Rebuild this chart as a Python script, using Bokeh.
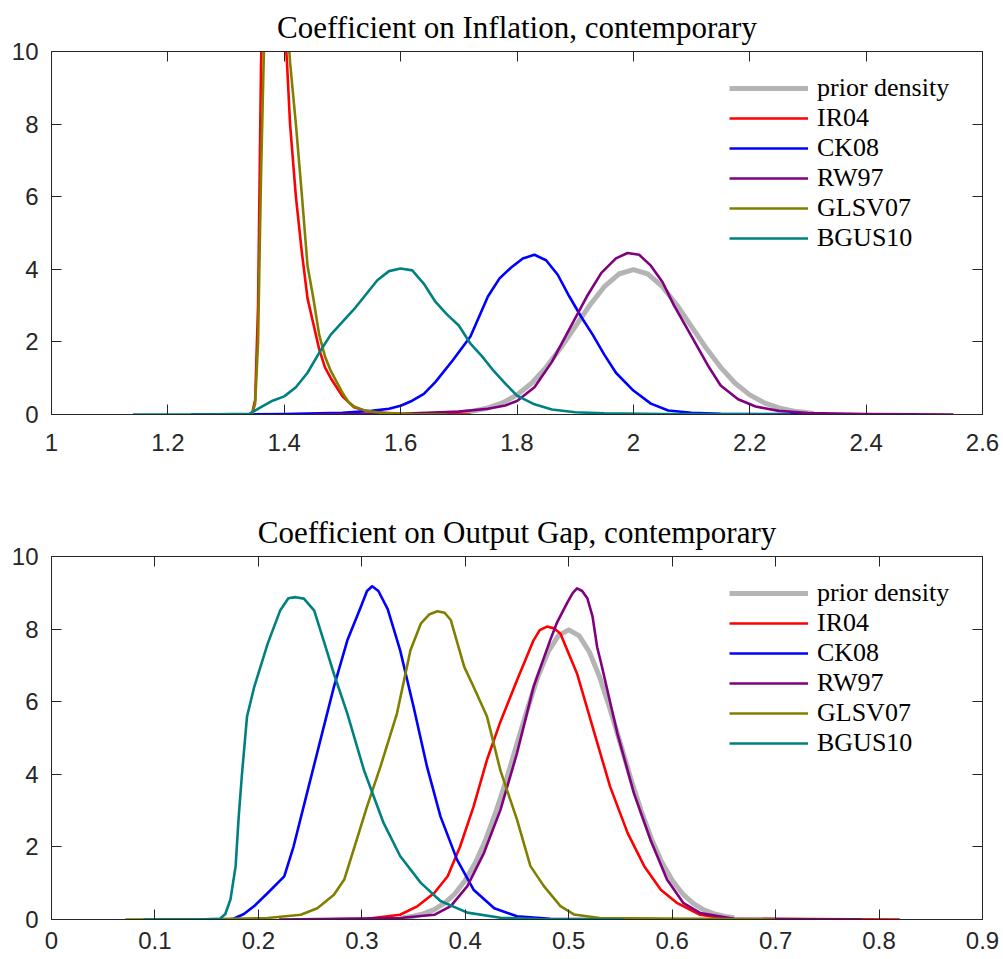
from bokeh.plotting import figure
from bokeh.models import Range1d, LinearAxis, FixedTicker, Legend, LegendItem, CustomLabelingPolicy
from bokeh.layouts import column
from bokeh.embed import file_html
from bokeh.resources import INLINE

# ---------------- data: panel 1 (Inflation) ----------------
title_top = "Coefficient on Inflation, contemporary"
xticks_top = [1.0, 1.2, 1.4, 1.6, 1.8, 2.0, 2.2, 2.4, 2.6]
xlabels_top = ["1", "1.2", "1.4", "1.6", "1.8", "2", "2.2", "2.4", "2.6"]

prior1_x = [1.69, 1.72, 1.75, 1.775, 1.80, 1.825, 1.85, 1.875, 1.90, 1.925, 1.95, 1.975, 2.00,
            2.025, 2.05, 2.075, 2.10, 2.125, 2.15, 2.175, 2.20, 2.225, 2.25, 2.28, 2.31]
prior1_y = [0.03, 0.08, 0.18, 0.32, 0.54, 0.86, 1.30, 1.83, 2.42, 3.01, 3.52, 3.87, 3.99,
            3.87, 3.52, 3.01, 2.42, 1.83, 1.30, 0.86, 0.54, 0.32, 0.18, 0.08, 0.03]

ir1_x = [1.33, 1.34, 1.345, 1.35, 1.355, 1.36, 1.365, 1.37, 1.38, 1.39, 1.40, 1.405, 1.41, 1.42,
         1.43, 1.44, 1.45, 1.46, 1.47, 1.48, 1.49, 1.50, 1.51, 1.52, 1.54, 1.56, 1.60, 1.65, 1.72]
ir1_y = [0, 0, 0.05, 0.4, 3.0, 9.5, 13.5, 15.5, 16.5, 15.5, 11.0, 9.6, 8.0, 6.0,
         4.5, 3.2, 2.5, 1.8, 1.3, 1.0, 0.75, 0.5, 0.35, 0.2, 0.1, 0.06, 0.02, 0.005, 0]

ck1_x = [1.24, 1.40, 1.50, 1.55, 1.58, 1.60, 1.62, 1.64, 1.66, 1.69, 1.72, 1.75, 1.77, 1.79, 1.81,
         1.83, 1.85, 1.87, 1.89, 1.91, 1.93, 1.95, 1.97, 2.00, 2.03, 2.06, 2.10, 2.15, 2.25, 2.46]
ck1_y = [0, 0.01, 0.05, 0.10, 0.16, 0.24, 0.38, 0.57, 0.9, 1.5, 2.15, 3.25, 3.75, 4.05, 4.3,
         4.4, 4.25, 3.85, 3.25, 2.7, 2.2, 1.65, 1.15, 0.66, 0.30, 0.11, 0.05, 0.02, 0.01, 0]

rw1_x = [1.45, 1.60, 1.70, 1.75, 1.78, 1.80, 1.83, 1.86, 1.89, 1.92, 1.945, 1.97, 1.99, 2.01,
         2.03, 2.05, 2.07, 2.10, 2.13, 2.15, 2.18, 2.21, 2.25, 2.30, 2.40, 2.55]
rw1_y = [0, 0.02, 0.08, 0.16, 0.25, 0.37, 0.75, 1.45, 2.35, 3.25, 3.9, 4.3, 4.45, 4.4,
         4.1, 3.65, 3.0, 2.15, 1.3, 0.8, 0.42, 0.22, 0.10, 0.04, 0.01, 0]

gl1_x = [1.34, 1.345, 1.35, 1.355, 1.36, 1.365, 1.37, 1.38, 1.39, 1.40, 1.41, 1.42, 1.43, 1.44,
         1.45, 1.46, 1.47, 1.48, 1.49, 1.50, 1.51, 1.52, 1.54, 1.57, 1.62, 1.68]
gl1_y = [0, 0.02, 0.3, 2.0, 6.5, 10.0, 13.0, 15.0, 14.5, 12.0, 9.7, 8.0, 6.1, 4.1,
         3.2, 2.2, 1.6, 1.2, 0.9, 0.6, 0.35, 0.22, 0.1, 0.04, 0.01, 0]

bg1_x = [1.14, 1.25, 1.34, 1.36, 1.38, 1.40, 1.42, 1.44, 1.46, 1.48, 1.50, 1.52, 1.54, 1.56, 1.58,
         1.60, 1.62, 1.64, 1.66, 1.68, 1.70, 1.72, 1.74, 1.76, 1.78, 1.80, 1.83, 1.86, 1.90, 1.95,
         2.05, 2.27]
bg1_y = [0, 0, 0.02, 0.2, 0.38, 0.5, 0.75, 1.15, 1.7, 2.2, 2.55, 2.9, 3.3, 3.7, 3.95,
         4.02, 3.97, 3.6, 3.1, 2.75, 2.45, 1.95, 1.6, 1.2, 0.85, 0.52, 0.28, 0.14, 0.06, 0.03,
         0.01, 0]

# ---------------- data: panel 2 (Output gap) ----------------
title_bot = "Coefficient on Output Gap, contemporary"
xticks_bot = [0.0, 0.1, 0.2, 0.3, 0.4, 0.5, 0.6, 0.7, 0.8, 0.9]
xlabels_bot = ["0", "0.1", "0.2", "0.3", "0.4", "0.5", "0.6", "0.7", "0.8", "0.9"]

prior2_x = [0.34, 0.35, 0.36, 0.37, 0.38, 0.39, 0.40, 0.41, 0.42, 0.43, 0.44, 0.45, 0.46, 0.47,
            0.48, 0.49, 0.50, 0.51, 0.52, 0.53, 0.54, 0.55, 0.56, 0.57, 0.58, 0.59, 0.60, 0.61,
            0.62, 0.63, 0.64, 0.65, 0.66]
prior2_y = [0.05, 0.09, 0.16, 0.27, 0.45, 0.71, 1.08, 1.58, 2.22, 3.00, 3.88, 4.84, 5.79, 6.67,
            7.37, 7.82, 7.98, 7.82, 7.37, 6.67, 5.79, 4.84, 3.88, 3.00, 2.22, 1.58, 1.08, 0.71,
            0.45, 0.27, 0.16, 0.09, 0.05]

ir2_x = [0.25, 0.305, 0.337, 0.354, 0.370, 0.383, 0.395, 0.408, 0.421, 0.434, 0.450, 0.466,
         0.472, 0.479, 0.486, 0.492, 0.508, 0.524, 0.540, 0.557, 0.573, 0.589, 0.605, 0.627,
         0.653, 0.82]
ir2_y = [0, 0.02, 0.13, 0.37, 0.73, 1.19, 2.01, 3.11, 4.40, 5.45, 6.59, 7.69,
         7.97, 8.07, 8.02, 7.87, 6.78, 5.22, 3.66, 2.38, 1.47, 0.82, 0.45, 0.13,
         0.02, 0]

ck2_x = [0.10, 0.17, 0.176, 0.186, 0.196, 0.209, 0.225, 0.234, 0.247, 0.260, 0.273, 0.286, 0.299,
         0.305, 0.310, 0.316, 0.325, 0.337, 0.350, 0.363, 0.376, 0.392, 0.408, 0.428, 0.450,
         0.482, 0.59]
ck2_y = [0, 0, 0.02, 0.15, 0.37, 0.73, 1.19, 2.01, 3.48, 4.95, 6.41, 7.69, 8.61,
         9.05, 9.18, 9.05, 8.55, 7.42, 5.86, 4.21, 2.84, 1.65, 0.82, 0.31, 0.09,
         0.02, 0]

rw2_x = [0.22, 0.337, 0.370, 0.386, 0.402, 0.418, 0.434, 0.450, 0.466, 0.482, 0.489, 0.499,
         0.504, 0.508, 0.513, 0.518, 0.523, 0.5275, 0.531, 0.547, 0.563, 0.579, 0.595, 0.611,
         0.627, 0.66, 0.783]
rw2_y = [0, 0.04, 0.13, 0.37, 0.92, 1.83, 3.02, 4.58, 6.41, 7.69, 8.2, 8.75,
         9.0, 9.12, 9.05, 8.85, 8.35, 7.5, 7.1, 5.13, 3.48, 2.20, 1.10, 0.45,
         0.18, 0.02, 0]

gl2_x = [0.0715, 0.15, 0.209, 0.241, 0.257, 0.273, 0.283, 0.292, 0.305, 0.318, 0.334, 0.347,
         0.357, 0.365, 0.373, 0.380, 0.386, 0.399, 0.408, 0.421, 0.434, 0.450, 0.463, 0.476,
         0.492, 0.505, 0.53, 0.70]
gl2_y = [0, 0.005, 0.04, 0.13, 0.31, 0.68, 1.10, 1.92, 3.11, 4.21, 5.68, 7.42,
         8.15, 8.40, 8.49, 8.45, 8.25, 6.96, 6.41, 5.59, 4.10, 2.75, 1.47, 0.92,
         0.37, 0.14, 0.04, 0]

bg2_x = [0.089, 0.14, 0.163, 0.168, 0.173, 0.178, 0.181, 0.184, 0.189, 0.196, 0.209, 0.221,
         0.229, 0.236, 0.244, 0.254, 0.263, 0.273, 0.286, 0.302, 0.321, 0.337, 0.357, 0.376,
         0.402, 0.434, 0.47, 0.553]
bg2_y = [0, 0, 0.02, 0.15, 0.55, 1.47, 2.84, 3.96, 5.59, 6.41, 7.6, 8.51,
         8.85, 8.88, 8.84, 8.51, 7.69, 6.77, 5.67, 4.12, 2.66, 1.75, 1.01, 0.51,
         0.19, 0.05, 0.01, 0]

yticks = [0, 2, 4, 6, 8, 10]
ylabels = ["0", "2", "4", "6", "8", "10"]

series_names = ["prior density", "IR04", "CK08", "RW97", "GLSV07", "BGUS10"]
series_colors = ["#b4b4b4", "#ff0000", "#0000ff", "#800080", "#808000", "#008080"]
series_widths = [5, 2.6, 2.6, 2.6, 2.6, 2.6]

top_series = [(prior1_x, prior1_y), (ir1_x, ir1_y), (ck1_x, ck1_y), (rw1_x, rw1_y),
              (gl1_x, gl1_y), (bg1_x, bg1_y)]
bot_series = [(prior2_x, prior2_y), (ir2_x, ir2_y), (ck2_x, ck2_y), (rw2_x, rw2_y),
              (gl2_x, gl2_y), (bg2_x, bg2_y)]

AX = "#262626"

NO_LABELS = """
try {
  const n = indices.size;
  for (let i = 0; i < n; i++) { indices.unset(i); }
} catch (e) {}
return indices;
"""


def make_axis(ticks, labels, show, standoff):
    ax = LinearAxis(ticker=FixedTicker(ticks=ticks),
                    major_label_overrides={t: l for t, l in zip(ticks, labels)})
    ax.major_tick_in = 10
    ax.major_tick_out = 0
    ax.minor_tick_line_color = None
    ax.axis_line_color = AX
    ax.axis_line_width = 1
    ax.major_tick_line_color = AX
    ax.major_label_text_color = AX
    ax.major_label_text_font = "Liberation Sans"
    if show:
        ax.major_label_text_font_size = "24px"
        ax.major_label_standoff = standoff
    else:
        ax.major_label_text_font_size = "0px"
        ax.major_label_standoff = 0
        ax.major_label_policy = CustomLabelingPolicy(code=NO_LABELS)
    return ax


def panel(title, xr, xticks, xlabels, series, top_border, bottom_border, x_standoff):
    p = figure(frame_width=931, frame_height=363,
               x_range=Range1d(*xr), y_range=Range1d(0, 10),
               output_backend="svg", toolbar_location=None,
               x_axis_location=None, y_axis_location=None,
               min_border_left=51, min_border_right=21,
               min_border_top=top_border, min_border_bottom=bottom_border,
               title=title)
    p.xgrid.visible = False
    p.ygrid.visible = False
    p.outline_line_color = AX
    p.background_fill_color = "white"
    p.border_fill_color = "white"
    p.title.align = "center"
    p.title.text_font = "Liberation Serif"
    p.title.text_font_size = "31px"
    p.title.text_font_style = "normal"
    p.title.text_color = "black"
    p.title.standoff = 13

    p.add_layout(make_axis(xticks, xlabels, True, x_standoff), "below")
    p.add_layout(make_axis(yticks, ylabels, True, 13), "left")
    p.add_layout(make_axis(xticks, xlabels, False, 0), "above")
    p.add_layout(make_axis(yticks, ylabels, False, 0), "right")

    items = []
    for (xs, ys), name, col, w in zip(series, series_names, series_colors, series_widths):
        r = p.line(xs, ys, line_color=col, line_width=w, line_join="round")
        items.append(LegendItem(label=name, renderers=[r]))

    legend = Legend(items=items, location=(678, 161), padding=0, margin=0, spacing=0,
                    glyph_width=79, glyph_height=30, label_height=30, label_standoff=9,
                    label_text_font="Liberation Serif", label_text_font_size="26px",
                    label_text_color="black",
                    border_line_color=None, background_fill_alpha=0)
    p.add_layout(legend)
    return p


p1 = panel(title_top, (1.0, 2.6), xticks_top, xlabels_top, top_series, 51, 50, 19)
p2 = panel(title_bot, (0.0, 0.9), xticks_bot, xlabels_bot, bot_series, 92, 40, 12)

layout = column(p1, p2, spacing=0)
open("out.html", "w").write(file_html(layout, INLINE))
